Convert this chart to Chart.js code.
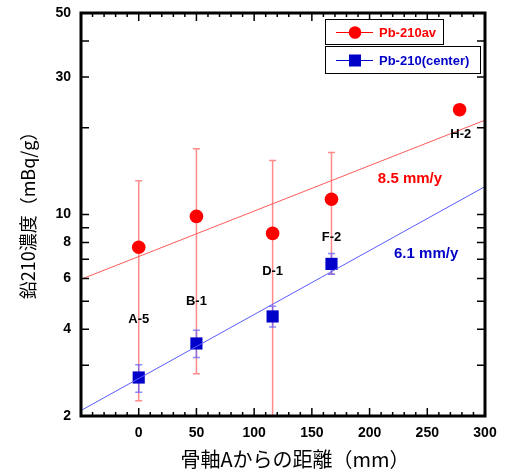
<!DOCTYPE html>
<html><head><meta charset="utf-8">
<script src="https://cdn.jsdelivr.net/npm/chart.js@4/dist/chart.umd.min.js"></script>
<style>html,body{margin:0;padding:0;background:#fff}#wrap{width:515px;height:472px;position:relative}</style>
</head><body><div id="wrap"><canvas id="c" width="515" height="472"></canvas></div>
<script>
// ---- data ----
const avX = [0, 50, 116, 167, 278];
const avY = [7.7, 9.85, 8.6, 11.3, 23.1];
const avErrLow = [2.26, 2.8, 1.5, 6.2, null];
const avErrHigh = [13.1, 16.9, 15.4, 16.4, null];

const centerX = [0, 50, 116, 167];
const centerY = [2.72, 3.57, 4.43, 6.74];
const centerErrLow = [2.42, 3.19, 4.07, 6.2];
const centerErrHigh = [3.01, 3.97, 4.81, 7.32];

const avFitX = [-50, 300];
const avFitY = [5.96, 21.25];
const centerFitX = [-50, 300];
const centerFitY = [2.09, 12.5];

const sampleLabels = ['A-5', 'B-1', 'D-1', 'F-2', 'H-2'];
const sampleLabelX = [0, 50, 116, 167, 279];
const sampleLabelY = [4.33, 5.0, 6.35, 8.32, 18.9];

const rateLabels = ['8.5 mm/y', '6.1 mm/y'];
const rateLabelX = [235, 249];
const rateLabelY = [13.3, 7.28];

const yTickVals = [2, 3, 4, 5, 6, 7, 8, 9, 10, 20, 30, 40, 50];
const yLabelVals = [2, 4, 6, 8, 10, 30, 50];
const xMajorTicks = [-50, 0, 50, 100, 150, 200, 250, 300];
const xMinorStep = 10;

const seriesNames = ['Pb-210av', 'Pb-210(center)'];
const xTitle = '骨軸Aからの距離（mm）';
const yTitle = '鉛210濃度（mBq/g）';

const RED = '#ff0000', BLUE = '#0000c8';
const FONT = '"Liberation Sans", Arial, sans-serif';
const CJK = '"Noto Sans CJK JP", sans-serif';

const pts = (xs, ys) => xs.map((x, i) => ({x, y: ys[i]}));

const decor = {
  id: 'decor',
  beforeDatasetsDraw(chart) {
    const {ctx, chartArea: a, scales: {x, y}} = chart;
    ctx.save();
    ctx.beginPath(); ctx.rect(a.left, a.top, a.right - a.left, a.bottom - a.top); ctx.clip();
    const bars = (xs, lo, hi, color) => {
      ctx.strokeStyle = color; ctx.lineWidth = 1.5;
      xs.forEach((v, i) => {
        if (lo[i] == null) return;
        const px = x.getPixelForValue(v);
        const p1 = y.getPixelForValue(lo[i]), p2 = y.getPixelForValue(hi[i]);
        ctx.beginPath(); ctx.moveTo(px, p1); ctx.lineTo(px, p2);
        ctx.moveTo(px - 3.5, p1); ctx.lineTo(px + 3.5, p1);
        ctx.moveTo(px - 3.5, p2); ctx.lineTo(px + 3.5, p2);
        ctx.stroke();
      });
    };
    bars(avX, avErrLow, avErrHigh, 'rgba(255,90,90,0.7)');
    bars(centerX, centerErrLow, centerErrHigh, 'rgba(90,90,255,0.7)');
    ctx.restore();
  },
  afterDraw(chart) {
    const {ctx, chartArea: a, scales: {x, y}} = chart;
    ctx.save();
    // ticks (inward)
    ctx.strokeStyle = '#000'; ctx.lineWidth = 1.5;
    ctx.beginPath();
    yTickVals.forEach(v => {
      const py = y.getPixelForValue(v);
      ctx.moveTo(a.left, py); ctx.lineTo(a.left + 8, py);
      ctx.moveTo(a.right, py); ctx.lineTo(a.right - 8, py);
    });
    for (let v = -50; v <= 300; v += xMinorStep) {
      const px = x.getPixelForValue(v);
      const len = xMajorTicks.includes(v) ? 8 : 4;
      ctx.moveTo(px, a.bottom); ctx.lineTo(px, a.bottom - len);
      ctx.moveTo(px, a.top); ctx.lineTo(px, a.top + len);
    }
    ctx.stroke();
    // frame
    ctx.lineWidth = 3;
    ctx.strokeRect(a.left, a.top, a.right - a.left, a.bottom - a.top);
    // sample labels
    ctx.textAlign = 'center'; ctx.textBaseline = 'middle';
    ctx.fillStyle = '#000'; ctx.font = 'bold 13px ' + FONT;
    sampleLabels.forEach((t, i) => ctx.fillText(t, x.getPixelForValue(sampleLabelX[i]), y.getPixelForValue(sampleLabelY[i])));
    ctx.font = 'bold 15px ' + FONT;
    [RED, BLUE].forEach((c, i) => {
      ctx.fillStyle = c;
      ctx.fillText(rateLabels[i], x.getPixelForValue(rateLabelX[i]), y.getPixelForValue(rateLabelY[i]));
    });
    // legend
    ctx.textAlign = 'left'; ctx.lineWidth = 1;
    const boxes = [[325.5, 19.5, 118, 25, 32, RED, 'circle'], [325.5, 46.5, 155, 27, 60, BLUE, 'rect']];
    boxes.forEach(([bx, by, bw, bh, cy, col, st], i) => {
      ctx.fillStyle = '#fff'; ctx.fillRect(bx, by, bw, bh);
      ctx.strokeStyle = '#000'; ctx.strokeRect(bx, by, bw, bh);
      ctx.strokeStyle = col; ctx.beginPath(); ctx.moveTo(336, cy + 0.5); ctx.lineTo(373, cy + 0.5); ctx.stroke();
      ctx.fillStyle = col;
      if (st === 'circle') { ctx.beginPath(); ctx.arc(355, cy + 0.5, 6.3, 0, Math.PI * 2); ctx.fill(); }
      else ctx.fillRect(349, cy - 5.5, 12, 12);
      ctx.font = 'bold 13px ' + FONT; ctx.textBaseline = 'middle';
      ctx.fillText(seriesNames[i], 379, cy + 1);
    });
    // axis titles
    ctx.fillStyle = '#000'; ctx.textAlign = 'center'; ctx.textBaseline = 'middle';
    ctx.font = '20px ' + CJK;
    ctx.fillText(xTitle, 295, 459);
    ctx.translate(28, 211); ctx.rotate(-Math.PI / 2);
    ctx.font = '18px ' + CJK;
    ctx.fillText(yTitle, 0, 0);
    ctx.restore();
  }
};

new Chart(document.getElementById('c'), {
  type: 'scatter',
  data: {
    datasets: [
      {data: pts(avFitX, avFitY), showLine: true, pointRadius: 0, borderColor: '#ff5a5a', borderWidth: 1},
      {data: pts(centerFitX, centerFitY), showLine: true, pointRadius: 0, borderColor: '#5a5aff', borderWidth: 1},
      {label: seriesNames[0], data: pts(avX, avY), pointStyle: 'circle', pointRadius: 6.8, backgroundColor: RED, borderWidth: 0},
      {label: seriesNames[1], data: pts(centerX, centerY), pointStyle: 'rect', pointRadius: 8.6, backgroundColor: BLUE, borderWidth: 0}
    ]
  },
  options: {
    responsive: false, animation: false, events: [],
    layout: {padding: {left: 0, top: 13, right: 30, bottom: 0}},
    plugins: {legend: {display: false}, tooltip: {enabled: false}},
    scales: {
      x: {
        type: 'linear', min: -50, max: 300,
        afterFit: s => { s.height = 56; },
        afterBuildTicks: s => { s.ticks = xMajorTicks.map(v => ({value: v})); },
        grid: {display: false, drawTicks: true, tickLength: 9}, border: {display: false},
        ticks: {color: '#000', font: {family: FONT, size: 14, weight: 'bold'}, padding: 0,
          maxRotation: 0, autoSkip: false, callback: v => v < 0 ? '' : String(v)}
      },
      y: {
        type: 'logarithmic', min: 2, max: 50,
        afterFit: s => { s.width = 81; },
        afterBuildTicks: s => { s.ticks = yTickVals.map(v => ({value: v})); },
        grid: {display: false, drawTicks: true, tickLength: 10}, border: {display: false},
        ticks: {color: '#000', font: {family: FONT, size: 14, weight: 'bold'}, padding: 0,
          autoSkip: false, callback: v => yLabelVals.includes(v) ? String(v) : ''}
      }
    }
  },
  plugins: [decor]
});
</script></body></html>
